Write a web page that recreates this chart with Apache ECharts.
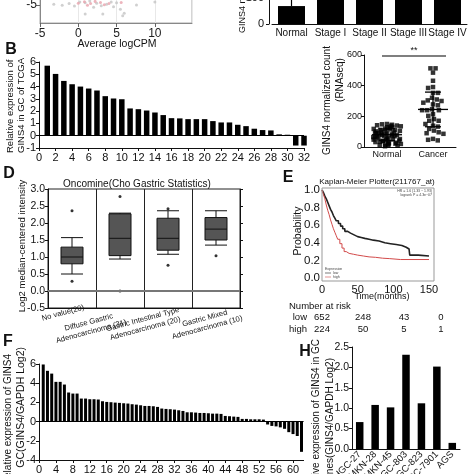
<!DOCTYPE html>
<html><head><meta charset="utf-8">
<script src="https://cdn.jsdelivr.net/npm/echarts@6/dist/echarts.min.js"></script>
<style>html,body{margin:0;padding:0;background:#fff}#c{width:474px;height:474px}</style>
</head><body><div id="c"></div><script>
// ---------- DATA ----------
// Panel A (volcano, mostly cropped)
const volcanoGray = [[-3.2,-4.8],[-2.1,-5.1],[-1.2,-4.6],[0.2,-4.2],[0.9,-4.4],[1.5,-3.9],[2.4,-4.5],[3.0,-5.2],[3.7,-4.8],[4.3,-4.2],[5.0,-4.4],[0.9,-7.5],[3.2,-7.5],[5.8,-8.0],[6.0,-7.3],[7.6,-5.0],[10.0,-4.2],[-0.5,-5.3],[2.0,-5.6],[4.6,-5.5],[5.5,-6.2]];
const volcanoPink = [[0.0,-4.5],[0.8,-4.1],[1.6,-4.6],[2.2,-4.0],[2.9,-4.3],[3.4,-4.9],[1.2,-5.1],[4.0,-4.6],[5.6,-4.3]];
// Stage bar panel
const stageCats = ['Normal','Stage I','Stage II','Stage III','Stage IV'];
const stageMeans = [69, 195, 205, 200, 185];
const stageSD = [60, 80, 85, 80, 90];
// Panel B
const tcgaValues = [5.7,5.03,4.46,4.19,4.0,3.84,3.68,3.22,3.03,2.97,2.22,2.16,2.05,1.89,1.68,1.43,1.41,1.35,1.35,1.35,1.19,1.08,1.08,0.89,0.78,0.57,0.46,0.43,0.11,0.08,-0.8,-0.8];
// Panel C
const cCats = ['Normal','Cancer'];
const normalCounts = [150,148,145,142,140,138,135,130,128,125,120,118,115,112,110,105,102,100,98,95,92,90,88,85,82,80,78,75,72,70,68,65,62,60,58,55,52,50,48,45,42,40,38,35,32,30,28,25,22,20,18,15,12,10,8,5];
const cancerCounts = [485,513,513,432,391,385,353,353,321,310,304,300,289,278,272,246,240,240,240,214,203,182,171,171,150,139,133,118,107,96,90,86,53,47,43];
const cMeans = [80, 245];
const cSD = [38, 113];
// Panel D
const dCats = ['No value(20)','Diffuse Gastric\nAdenocarcinoma (31)','Gastric Intestinal Type\nAdenocarcinoma (20)','Gastric Mixed\nAdenocarcinoma (10)'];
const dBoxes = [[0.5,0.8,1.0,1.29,1.57],[0.94,1.04,1.55,2.27,2.29],[1.08,1.2,1.55,2.14,2.36],[1.35,1.5,1.82,2.16,2.36]];
const dOutliers = [[0,2.36],[0,0.29],[1,2.78],[1,0.0],[2,2.42],[2,0.76],[3,1.04]];
// Panel E
const kmLow = [[0,1],[2,0.97],[4,0.93],[6,0.9],[8,0.86],[10,0.82],[12,0.78],[14,0.75],[16,0.71],[18,0.68],[20,0.65],[23,0.62],[26,0.59],[29,0.56],[32,0.53],[36,0.51],[40,0.49],[45,0.47],[50,0.46],[55,0.45],[60,0.44],[66,0.43],[72,0.42],[80,0.40],[88,0.39],[96,0.38],[104,0.37],[112,0.35],[118,0.33],[122,0.32],[123,0.26],[135,0.25],[150,0.25]];
const kmHigh = [[0,1],[2,0.95],[4,0.9],[6,0.83],[8,0.77],[10,0.72],[12,0.66],[14,0.61],[16,0.56],[18,0.52],[20,0.48],[22,0.44],[25,0.39],[28,0.34],[31,0.30],[34,0.28],[38,0.27],[44,0.26],[50,0.25],[58,0.24],[66,0.235],[75,0.225],[85,0.22],[95,0.21],[110,0.21],[150,0.21]];
const riskLow = ['652','248','43','0'];
const riskHigh = ['224','50','5','1'];
// Panel F
const fValues = [5.95,5.29,5.0,4.14,4.14,3.86,3.03,2.92,2.92,2.4,2.4,2.33,2.33,2.3,2.12,2.05,2.02,1.98,1.95,1.91,1.88,1.81,1.77,1.70,1.63,1.63,1.60,1.53,1.36,1.32,1.29,1.25,1.18,1.11,0.97,0.97,0.94,0.9,0.9,0.87,0.83,0.83,0.8,0.59,0.56,0.52,0.49,0.28,0.28,0.24,0.24,0.24,0.21,-0.3,-0.45,-0.5,-0.6,-0.75,-1.1,-1.3,-1.5,-3.15];
// Panel H
const hCats = ['HGC-27','MKN-28','MKN-45','MGC-803','BGC-823','SGC-7901','AGS'];
const hValues = [0.66,1.08,1.02,2.31,1.12,2.02,0.15];

// ---------- STYLE HELPERS ----------
const FONT = '"Liberation Sans", Arial, sans-serif';
const INK = '#111';
function merge(a, b) {
  const r = Object.assign({}, a);
  for (const k in b) {
    if (b[k] && typeof b[k] === 'object' && !Array.isArray(b[k]) && a[k] && typeof a[k] === 'object' && !Array.isArray(a[k])) r[k] = merge(a[k], b[k]);
    else r[k] = b[k];
  }
  return r;
}
const baseAxis = {
  axisLine: { show: true, onZero: false, lineStyle: { color: INK, width: 1 } },
  axisTick: { show: true, length: 3, lineStyle: { color: INK, width: 1 } },
  axisLabel: { color: INK, fontFamily: FONT, fontSize: 11, margin: 3 },
  splitLine: { show: false }
};
function vAx(o) { return merge(merge(baseAxis, { type: 'value' }), o); }
function cAx(o) { return merge(merge(baseAxis, { type: 'category' }), o); }
function grid(o) { return Object.assign({ outerBoundsMode: 'none', containLabel: false }, o); }
const fix1 = v => v.toFixed(1);
function txt(x, y, text, o) {
  o = o || {};
  return {
    type: 'text', x: x, y: y, rotation: o.rot || 0, z: 100,
    style: {
      text: text, fill: o.color || INK, fontFamily: FONT, fontSize: o.size || 10,
      fontWeight: o.weight || 'normal',
      align: o.align || 'center', textAlign: o.align || 'center',
      verticalAlign: o.valign || 'middle', textVerticalAlign: o.valign || 'middle',
      lineHeight: o.lh
    }
  };
}
const zeroLine = { silent: true, symbol: 'none', label: { show: false }, lineStyle: { color: '#000', width: 1, type: 'solid' }, data: [{ yAxis: 0 }] };
const ROT90 = Math.PI / 2;
const ROT15 = 15 * Math.PI / 180;

// ---------- OPTION ----------
const option = {
  animation: false,
  backgroundColor: '#fff',
  grid: [
    grid({ left: 40, top: -13, width: 152, height: 36, show: true, borderColor: '#aaa', borderWidth: 1 }), // A
    grid({ left: 272, top: -28, width: 195, height: 52 }),  // stage
    grid({ left: 39, top: 62, width: 265, height: 86 }),    // B
    grid({ left: 364, top: 55, width: 92, height: 92 }),    // C
    grid({ left: 48, top: 189, width: 192, height: 119, show: true, borderColor: '#222', borderWidth: 1 }), // D
    grid({ left: 322, top: 190, width: 112, height: 88 }),  // E
    grid({ left: 39, top: 364, width: 264.6, height: 96 }), // F
    grid({ left: 352, top: 347, width: 108, height: 102 })  // H
  ],
  xAxis: [
    vAx({ gridIndex: 0, min: -5, max: 14.85, interval: 5, axisLine: { lineStyle: { color: '#888' } }, axisTick: { length: 4, lineStyle: { color: '#666' } }, axisLabel: { fontSize: 12, margin: 5, showMaxLabel: false, color: '#222' }, splitLine: { show: true, lineStyle: { color: '#e8e8e8' } } }),
    cAx({ gridIndex: 1, data: stageCats, axisTick: { show: false }, axisLabel: { margin: 4, interval: 0, fontSize: 10 } }),
    vAx({ gridIndex: 2, min: 0, max: 32, interval: 2, axisLabel: { margin: 4 } }),
    cAx({ gridIndex: 3, data: cCats, jitter: 28, jitterOverlap: false, jitterMargin: 0.5, axisTick: { show: false }, axisLabel: { fontSize: 9, margin: 3 } }),
    cAx({ gridIndex: 4, data: dCats, axisLabel: { show: false }, axisTick: { show: false }, splitLine: { show: true, interval: 0, lineStyle: { color: '#222', width: 1 } } }),
    vAx({ gridIndex: 5, min: 0, max: 157, interval: 50, axisLine: { show: false }, axisTick: { show: false }, axisLabel: { margin: 6, showMaxLabel: false } }),
    vAx({ gridIndex: 6, min: 0, max: 62.5, interval: 4, axisLabel: { margin: 4, showMaxLabel: false } }),
    cAx({ gridIndex: 7, data: hCats, axisTick: { show: false }, axisLabel: { rotate: 45, fontSize: 9.5, margin: 4, interval: 0, hideOverlap: false } })
  ],
  yAxis: [
    vAx({ gridIndex: 0, min: -10, max: 0, interval: 5, axisLine: { lineStyle: { color: '#888' } }, axisTick: { length: 4, lineStyle: { color: '#666' } }, axisLabel: { fontSize: 12, margin: 3, showMinLabel: false, showMaxLabel: false, color: '#222' } }),
    vAx({ gridIndex: 1, min: 0, max: 200, interval: 100, offset: 3, axisLabel: { margin: 5 } }),
    vAx({ gridIndex: 2, min: -1, max: 6, interval: 1 }),
    vAx({ gridIndex: 3, min: 0, max: 600, interval: 200, axisLabel: { fontSize: 9, margin: 2 } }),
    vAx({ gridIndex: 4, min: -0.5, max: 3, interval: 0.5, axisLabel: { fontSize: 10.5, formatter: fix1 } }),
    vAx({ gridIndex: 4, position: 'right', min: -0.5, max: 3, interval: 0.5, axisLabel: { show: false } }),
    vAx({ gridIndex: 5, min: 0, max: 1, interval: 0.2, axisLine: { show: false }, axisTick: { show: false }, axisLabel: { fontSize: 11.5, margin: 2, formatter: fix1 } }),
    vAx({ gridIndex: 6, min: -4, max: 6, interval: 2 }),
    vAx({ gridIndex: 7, min: 0, max: 2.5, interval: 0.5, axisLabel: { fontSize: 10.5, formatter: fix1 } })
  ],
  series: [
    { type: 'scatter', xAxisIndex: 0, yAxisIndex: 0, data: volcanoGray, symbolSize: 3, itemStyle: { color: '#c4c4c4' } },
    { type: 'scatter', xAxisIndex: 0, yAxisIndex: 0, data: volcanoPink, symbolSize: 3, itemStyle: { color: '#e9a3ad' } },
    { type: 'bar', xAxisIndex: 1, yAxisIndex: 1, data: stageMeans, barWidth: 27, itemStyle: { color: '#000' } },
    { type: 'custom', xAxisIndex: 1, yAxisIndex: 1, data: stageMeans.map((m, i) => [i, m, stageSD[i]]),
      renderItem: function (p, api) {
        const c = api.coord([api.value(0), api.value(1)]);
        const hi = api.coord([api.value(0), api.value(1) + api.value(2)]);
        return { type: 'group', children: [
          { type: 'line', shape: { x1: c[0], y1: c[1], x2: c[0], y2: hi[1] }, style: { stroke: '#000', lineWidth: 1.2 } },
          { type: 'line', shape: { x1: c[0] - 6, y1: hi[1], x2: c[0] + 6, y2: hi[1] }, style: { stroke: '#000', lineWidth: 1.2 } }
        ] };
      } },
    { type: 'bar', xAxisIndex: 2, yAxisIndex: 2, data: tcgaValues.map((v, i) => [i + 1, v]), barWidth: 5.5, itemStyle: { color: '#000' }, markLine: zeroLine },
    { type: 'scatter', xAxisIndex: 3, yAxisIndex: 3, symbol: 'rect', symbolSize: 4.5, itemStyle: { color: '#000' },
      data: normalCounts.map(v => ['Normal', v]).concat(cancerCounts.map(v => ['Cancer', v])) },
    { type: 'custom', xAxisIndex: 3, yAxisIndex: 3, z: 5, data: cMeans.map((m, i) => [i, m, cSD[i]]),
      renderItem: function (p, api) {
        const x = api.value(0), m = api.value(1), s = api.value(2);
        const c = api.coord([x, m]), hi = api.coord([x, m + s]), lo = api.coord([x, m - s]);
        const st = { stroke: '#000', lineWidth: 1.3 };
        return { type: 'group', children: [
          { type: 'line', shape: { x1: c[0] - 15, y1: c[1], x2: c[0] + 15, y2: c[1] }, style: st },
          { type: 'line', shape: { x1: c[0], y1: hi[1], x2: c[0], y2: lo[1] }, style: st },
          { type: 'line', shape: { x1: c[0] - 8, y1: hi[1], x2: c[0] + 8, y2: hi[1] }, style: st },
          { type: 'line', shape: { x1: c[0] - 8, y1: lo[1], x2: c[0] + 8, y2: lo[1] }, style: st }
        ] };
      } },
    { type: 'boxplot', xAxisIndex: 4, yAxisIndex: 4, data: dBoxes, boxWidth: [22, 22], itemStyle: { color: '#555', borderColor: '#111', borderWidth: 1 } },
    { type: 'scatter', xAxisIndex: 4, yAxisIndex: 4, data: dOutliers, symbolSize: 3, itemStyle: { color: '#000' },
      markLine: { silent: true, symbol: 'none', label: { show: false }, lineStyle: { color: '#777', width: 2, type: 'solid' }, data: [{ yAxis: 0 }] } },
    { type: 'line', xAxisIndex: 5, yAxisIndex: 6, data: kmLow, step: 'end', showSymbol: false, lineStyle: { color: '#222', width: 1.6 } },
    { type: 'line', xAxisIndex: 5, yAxisIndex: 6, data: kmHigh, step: 'end', showSymbol: false, lineStyle: { color: '#d24a4a', width: 1 } },
    { type: 'bar', xAxisIndex: 6, yAxisIndex: 7, data: fValues.map((v, i) => [i + 1, v]), barWidth: 3, itemStyle: { color: '#000' }, markLine: zeroLine },
    { type: 'bar', xAxisIndex: 7, yAxisIndex: 8, data: hValues, barWidth: 7.5, itemStyle: { color: '#000' } }
  ],
  graphic: { elements: [] }
};

const G = option.graphic.elements;
// Panel letters
G.push(txt(11, 50, 'B', { size: 16, weight: 'bold' }));
G.push(txt(9, 174, 'D', { size: 16, weight: 'bold' }));
G.push(txt(288, 178, 'E', { size: 16, weight: 'bold' }));
G.push(txt(8, 342, 'F', { size: 16, weight: 'bold' }));
G.push(txt(305, 352, 'H', { size: 16, weight: 'bold' }));
// A
G.push(txt(117, 44, 'Average logCPM', { size: 10.5 }));
// Stage
G.push(txt(243, 33, 'GINS4 normalized count', { size: 9, rot: ROT90, align: 'left' }));
// B
G.push(txt(10, 153, 'Relative expression of', { size: 9.5, rot: ROT90, align: 'left' }));
G.push(txt(21, 153, 'GINS4 in GC of TCGA', { size: 9.5, rot: ROT90, align: 'left' }));
// C
G.push(txt(327, 155, 'GINS4 normalized count', { size: 10, rot: ROT90, align: 'left' }));
G.push(txt(340, 80, '(RNAseq)', { size: 10, rot: ROT90 }));
G.push({ type: 'line', shape: { x1: 382, y1: 56, x2: 446, y2: 56 }, style: { stroke: '#000', lineWidth: 1.2 } });
G.push(txt(414, 51, '**', { size: 9 }));
// D
G.push(txt(137, 184, 'Oncomine(Cho Gastric Statistics)', { size: 10 }));
G.push(txt(22, 246, 'Log2 median-centered intensity', { size: 9.5, rot: ROT90 }));
const dLabelPos = [[63, 313], [90, 327], [144, 324], [206, 323]];
dCats.forEach((t, i) => G.push(txt(dLabelPos[i][0], dLabelPos[i][1], t, { size: 7.6, rot: ROT15, lh: 9.5 })));
// E
G.push({ type: 'rect', shape: { x: 322, y: 188, width: 112, height: 93 }, style: { fill: 'none', stroke: '#999', lineWidth: 1 }, z: 90 });
G.push(txt(377, 182, 'Kaplan-Meier Plotter(211767_at)', { size: 8 }));
G.push(txt(298, 231, 'Probability', { size: 10.5, rot: ROT90 }));
G.push(txt(382, 297, 'Time(months)', { size: 9 }));
G.push(txt(432, 191, 'HR = 1.6 (1.33 \u2212 1.93)', { size: 3.5, align: 'right', color: '#444' }));
G.push(txt(432, 195, 'logrank P = 4.3e\u221207', { size: 3.5, align: 'right', color: '#444' }));
G.push(txt(325, 269, 'Expression', { size: 3.5, align: 'left', color: '#444' }));
G.push({ type: 'line', shape: { x1: 325, y1: 273, x2: 331, y2: 273 }, style: { stroke: '#222', lineWidth: 0.6 } });
G.push({ type: 'line', shape: { x1: 325, y1: 277, x2: 331, y2: 277 }, style: { stroke: '#d24a4a', lineWidth: 0.6 } });
G.push(txt(333, 273, 'low', { size: 3.5, align: 'left', color: '#444' }));
G.push(txt(333, 277, 'high', { size: 3.5, align: 'left', color: '#444' }));
G.push(txt(289, 306, 'Number at risk', { size: 9.5, align: 'left' }));
G.push(txt(307, 317, 'low', { size: 9.5, align: 'right' }));
G.push(txt(307, 329, 'high', { size: 9.5, align: 'right' }));
const riskX = [322, 363, 404, 441];
riskLow.forEach((t, i) => G.push(txt(riskX[i], 317, t, { size: 9.5 })));
riskHigh.forEach((t, i) => G.push(txt(riskX[i], 329, t, { size: 9.5 })));
// F
G.push(txt(8, 354, 'Relative expression of GINS4', { size: 10, rot: ROT90, align: 'right' }));
G.push(txt(21, 347, 'GC(GINS4/GAPDH Log2)', { size: 10.5, rot: ROT90, align: 'right' }));
// H
G.push(txt(316, 339, 'Relative expression of GINS4 in GC', { size: 10, rot: ROT90, align: 'right' }));
G.push(txt(330, 358, 'cell lines(GINS4/GAPDH Log2)', { size: 10, rot: ROT90, align: 'right' }));

const chart = echarts.init(document.getElementById('c'), null, { renderer: 'canvas' });
chart.setOption(option);
</script></body></html>
